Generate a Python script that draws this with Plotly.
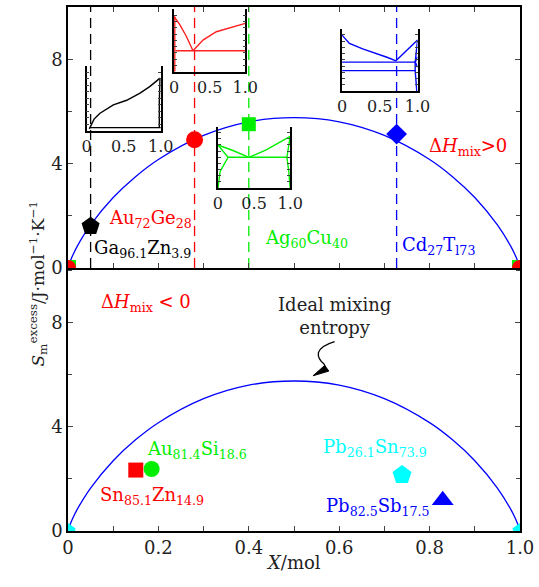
import plotly.graph_objects as go

# ---------------- data ----------------
# ideal mixing entropy curve
curve_x = [0, 0.002, 0.005, 0.01, 0.02, 0.05, 0.1, 0.15, 0.2, 0.3, 0.4, 0.5,
           0.6, 0.7, 0.8, 0.85, 0.9, 0.95, 0.98, 0.99, 0.995, 0.998, 1.0]
curve_y = [0, 0.12, 0.26, 0.47, 0.82, 1.65, 2.70, 3.51, 4.16, 5.08, 5.60, 5.76,
           5.60, 5.08, 4.16, 3.51, 2.70, 1.65, 0.82, 0.47, 0.26, 0.12, 0]

# upper panel (dH_mix > 0)
top_names = ["Ga<sub>96.1</sub>Zn<sub>3.9</sub>", "Au<sub>72</sub>Ge<sub>28</sub>",
             "Ag<sub>60</sub>Cu<sub>40</sub>", "Cd<sub>27</sub>T<sub>l73</sub>"]
top_x = [0.05, 0.28, 0.40, 0.727]
top_y = [1.60, 4.91, 5.51, 5.13]
top_colors = ["#000000", "#ff0000", "#00ee00", "#0000ff"]
top_symbols = ["pentagon", "circle", "square", "diamond"]
top_label_x = [0.164, 0.182, 0.527, 0.82]
top_label_y = [0.73, 1.87, 1.11, 0.84]

# lower panel (dH_mix < 0)
bot_names = ["Sn<sub>85.1</sub>Zn<sub>14.9</sub>", "Au<sub>81.4</sub>Si<sub>18.6</sub>",
             "Pb<sub>26.1</sub>Sn<sub>73.9</sub>", "Pb<sub>82.5</sub>Sb<sub>17.5</sub>"]
bot_x = [0.150, 0.185, 0.739, 0.829]
bot_y = [2.34, 2.38, 2.15, 1.18]
bot_colors = ["#ff0000", "#00ee00", "#00ffff", "#0000ff"]
bot_symbols = ["square", "circle", "pentagon", "triangle-up"]
bot_label_x = [0.185, 0.285, 0.680, 0.685]
bot_label_y = [1.34, 3.11, 3.19, 0.92]

# end points (pure elements)
end_x = [0.0, 1.0]
end_y = [0.0, 0.0]

# inset phase diagrams (normalised composition / temperature)
ins_ga_zn = [
    ([0.036, 0.10, 0.18, 0.36, 0.54, 0.72, 0.85, 0.99], [0.03, 0.18, 0.27, 0.40, 0.47, 0.58, 0.68, 0.81]),
    ([0.04, 1.0], [0.05, 0.05]),
    ([0.99, 0.98, 0.98], [0.81, 0.45, 0.05]),
]
ins_au_ge = [
    ([0.0, 0.08, 0.17, 0.266], [0.88, 0.75, 0.57, 0.335]),
    ([0.266, 0.406, 0.593, 0.78, 1.0], [0.335, 0.505, 0.638, 0.70, 0.77]),
    ([0.02, 1.0], [0.335, 0.335]),
    ([0.01, 0.01], [0.88, 0.0]),
]
ins_ag_cu = [
    ([0.0, 0.207, 0.43], [0.70, 0.61, 0.50]),
    ([0.43, 0.668, 1.0], [0.50, 0.62, 0.84]),
    ([0.14, 0.954], [0.50, 0.50]),
    ([0.0, 0.14, 0.03, 0.0], [0.70, 0.50, 0.27, 0.0]),
    ([1.0, 0.954, 0.98, 1.0], [0.84, 0.50, 0.27, 0.0]),
]
ins_cd_tl = [
    ([0.0, 0.097, 0.273, 0.449, 0.604, 0.714], [0.895, 0.763, 0.674, 0.605, 0.537, 0.484]),
    ([0.714, 0.846, 1.0], [0.484, 0.632, 0.816]),
    ([0.0, 0.97], [0.463, 0.463]),
    ([0.0, 0.97], [0.326, 0.326]),
    ([1.0, 0.975, 0.969, 0.969, 0.985, 0.99], [0.816, 0.55, 0.463, 0.326, 0.10, 0.0]),
    ([1.0, 0.97, 1.0], [0.55, 0.463, 0.38]),
]
insets = [
    (ins_ga_zn, "#000000", (86.7, 161.0, 129.3, 64.0)),
    (ins_au_ge, "#ff2020", (174.3, 245.7, 70.0, 7.0)),
    (ins_ag_cu, "#00ee00", (218.3, 290.7, 186.7, 125.0)),
    (ins_cd_tl, "#0000ff", (342.7, 418.3, 89.3, 26.7)),
]

# ---------------- layout helpers ----------------
W, H = 539, 587
L, R, T, B = 68, 18, 5, 56
PX0, PX1 = L, W - R
PY0, PY1 = H - B, T
SPLIT = 267

def fx(px):
    return (px - PX0) / (PX1 - PX0)

def fy(py):
    return (PY0 - py) / (PY0 - PY1)

FONT = "DejaVu Serif"
FS = 18
TXT = "#222222"

fig = go.Figure()

# ---- top panel ----
for xv, c in zip(top_x, top_colors):
    fig.add_trace(go.Scatter(x=[xv, xv], y=[0, 10], mode="lines",
                             line=dict(color=c, width=1.3, dash="10px,6px"),
                             xaxis="x", yaxis="y", hoverinfo="skip"))
fig.add_trace(go.Scatter(x=curve_x, y=curve_y, mode="lines", line=dict(color="#0000ff", width=1.3, shape="spline"),
                         xaxis="x", yaxis="y"))
for sym, c in [("square", "#00ee00"), ("circle", "#ff0000")]:
    fig.add_trace(go.Scatter(x=end_x, y=end_y, mode="markers",
                             marker=dict(symbol=sym, color=c, size=16, line=dict(width=0)),
                             xaxis="x", yaxis="y"))
top_sizes = [19, 17, 14, 16]
for i in range(4):
    fig.add_trace(go.Scatter(x=[top_x[i]], y=[top_y[i]], mode="markers",
                             marker=dict(symbol=top_symbols[i], color=top_colors[i], size=top_sizes[i],
                                         line=dict(width=0)),
                             xaxis="x", yaxis="y"))

# ---- bottom panel ----
fig.add_trace(go.Scatter(x=curve_x, y=curve_y, mode="lines", line=dict(color="#0000ff", width=1.3, shape="spline"),
                         xaxis="x2", yaxis="y2"))
fig.add_trace(go.Scatter(x=end_x, y=end_y, mode="markers",
                         marker=dict(symbol="pentagon", color="#00ffff", size=16, line=dict(width=0)),
                         xaxis="x2", yaxis="y2"))
bot_sizes = [15, 16, 20, 19]
for i in range(4):
    fig.add_trace(go.Scatter(x=[bot_x[i]], y=[bot_y[i]], mode="markers",
                             marker=dict(symbol=bot_symbols[i], color=bot_colors[i], size=bot_sizes[i],
                                         line=dict(width=0)),
                             xaxis="x2", yaxis="y2"))

# ---- insets ----
layout_axes = {}
for k, (lines, col, (xl, xr, yb, yt)) in enumerate(insets):
    n = k + 3
    for lx, ly in lines:
        fig.add_trace(go.Scatter(x=lx, y=ly, mode="lines", line=dict(color=col, width=1.4),
                                 xaxis=f"x{n}", yaxis=f"y{n}"))
    layout_axes[f"xaxis{n}"] = dict(domain=[fx(xl), fx(xr)], anchor=f"y{n}", range=[0, 1],
                                    tickvals=[0, 0.5, 1.0], ticktext=["0", "0.5", "1.0"],
                                    showline=True, linecolor="black", linewidth=1.5,
                                    ticks="", showgrid=False, zeroline=False,
                                    tickfont=dict(family=FONT, size=FS - 2, color=TXT))
    layout_axes[f"yaxis{n}"] = dict(domain=[fy(yb), fy(yt)], anchor=f"x{n}", range=[0, 1],
                                    showticklabels=False, showline=True, linecolor="black", linewidth=1.5,
                                    mirror="ticks", ticks="inside", ticklen=3, dtick=0.1,
                                    showgrid=False, zeroline=False)

main_x = dict(range=[0, 1], dtick=0.2, ticks="inside", ticklen=5, showline=True, linecolor="black",
              showgrid=False, zeroline=False,
              minor=dict(dtick=0.1, ticks="inside", ticklen=5),
              tickfont=dict(family=FONT, size=FS, color=TXT))
main_y = dict(dtick=4, ticks="inside", ticklen=5, showline=True, linecolor="black",
              linewidth=1.5, mirror="ticks", showgrid=False, zeroline=False,
              minor=dict(dtick=2, ticks="inside", ticklen=4),
              tickfont=dict(family=FONT, size=FS, color=TXT))

split = fy(SPLIT)
xa1 = dict(main_x, domain=[0, 1], anchor="y", showticklabels=False, mirror="ticks", linewidth=1.5)
xa2 = dict(main_x, domain=[0, 1], anchor="y2", mirror=False, linewidth=1.5,
           tickvals=[0, 0.2, 0.4, 0.6, 0.8, 1.0], ticktext=["0", "0.2", "0.4", "0.6", "0.8", "1.0"])
ya1 = dict(main_y, domain=[split, 1], anchor="x", range=[0, 10])
ya2 = dict(main_y, domain=[0, split], anchor="x2", range=[0, 10.1])

annotations = []
for i in range(4):
    annotations.append(dict(x=top_label_x[i], y=top_label_y[i], xref="x", yref="y", text=top_names[i],
                            showarrow=False, font=dict(family=FONT, size=FS, color=top_colors[i])))
    annotations.append(dict(x=bot_label_x[i], y=bot_label_y[i], xref="x2", yref="y2", text=bot_names[i],
                            showarrow=False, font=dict(family=FONT, size=FS, color=bot_colors[i])))
annotations += [
    dict(x=0.886, y=4.62, xref="x", yref="y", text="Δ<i>H</i><sub>mix</sub>>0", showarrow=False,
         font=dict(family=FONT, size=FS, color="#ff0000")),
    dict(x=0.173, y=8.76, xref="x2", yref="y2", text="Δ<i>H</i><sub>mix</sub> < 0", showarrow=False,
         font=dict(family=FONT, size=FS, color="#ff0000")),
    dict(x=0.59, y=8.26, xref="x2", yref="y2", text="Ideal mixing<br>entropy", showarrow=False,
         font=dict(family=FONT, size=FS, color=TXT)),
    dict(x=fx(294), y=fy(575), xref="paper", yref="paper", text="<i>X</i>/mol", showarrow=False,
         font=dict(family=FONT, size=FS, color=TXT)),
    dict(x=fx(24), y=fy(283), xref="paper", yref="paper", textangle=-90, showarrow=False,
         text="<i>S</i><sub>m</sub><sup>excess</sup>/J·mol<sup>−1</sup>·K<sup>−1</sup>",
         font=dict(family=FONT, size=17, color=TXT)),
]

shapes = [
    dict(type="path", xref="x2", yref="y2",
         path="M 0.590,7.27 Q 0.560,7.12 0.554,6.85 Q 0.552,6.62 0.566,6.42 L 0.570,6.30",
         line=dict(color="black", width=1.3)),
    dict(type="path", xref="x2", yref="y2",
         path="M 0.542,5.96 L 0.568,6.36 L 0.577,6.14 Z",
         fillcolor="black", line=dict(color="black", width=1)),
]

fig.update_layout(
    width=W, height=H, margin=dict(l=L, r=R, t=T, b=B),
    paper_bgcolor="white", plot_bgcolor="rgba(0,0,0,0)", showlegend=False,
    xaxis=xa1, yaxis=ya1, xaxis2=xa2, yaxis2=ya2,
    annotations=annotations, shapes=shapes,
    **layout_axes,
)

fig.write_html("out.html")
